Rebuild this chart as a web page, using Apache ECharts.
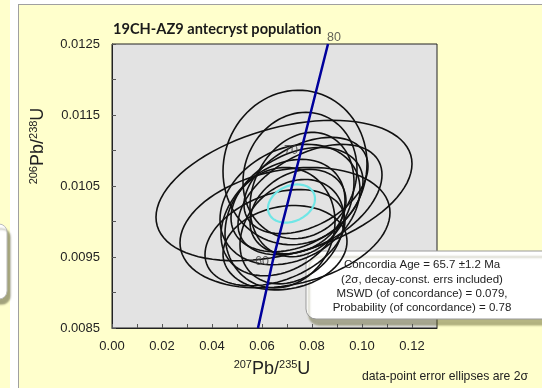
<!DOCTYPE html>
<html>
<head>
<meta charset="utf-8" />
<title>Concordia</title>
<style>
  html, body { margin: 0; padding: 0; background: #fff; }
  #main { width: 542px; height: 388px; }
</style>
</head>
<body>
<div id="main"></div>
<script src="https://cdn.jsdelivr.net/npm/echarts@6/dist/echarts.min.js"></script>
<script>
// tick labels
const xLabels = ['0.00', '0.02', '0.04', '0.06', '0.08', '0.10', '0.12'];
const yLabels = ['0.0085', '0.0095', '0.0105', '0.0115', '0.0125'];

// concordia curve
const concX = [0.0584, 0.0644, 0.0748, 0.0864];
const concY = [0.0085, 0.00946, 0.01088, 0.0125];
const ageX = [0.0640, 0.0756, 0.0864];
const ageY = [0.00943, 0.01100, 0.0125];
const ageText = ['60', '70', '80'];

// error ellipses: centre, half width, half height, correlation
const ellCx  = [0.0732, 0.0752, 0.0688, 0.0692, 0.0712, 0.0684, 0.0740, 0.0672, 0.0760, 0.0720, 0.0776, 0.0652, 0.0744, 0.0792, 0.0692];
const ellCy  = [0.010761, 0.010648, 0.010436, 0.009913, 0.010239, 0.010055, 0.010309, 0.009913, 0.010380, 0.009857, 0.010507, 0.009772, 0.010140, 0.010309, 0.009631];
const ellSx  = [0.0288, 0.0228, 0.0512, 0.0420, 0.0280, 0.0248, 0.0264, 0.0220, 0.0208, 0.0208, 0.0248, 0.0280, 0.0192, 0.0288, 0.0248];
const ellSy  = [0.001088, 0.000890, 0.000989, 0.000848, 0.000848, 0.000820, 0.000735, 0.000848, 0.000876, 0.000735, 0.000678, 0.000678, 0.000594, 0.000777, 0.000594];
const ellRho = [0.05, 0.10, 0.38, 0.25, 0.25, 0.30, 0.35, 0.10, 0.20, 0.25, 0.40, 0.35, 0.25, 0.45, 0.15];

// concordia age ellipse
const ageEll = [0.0718, 0.010253, 0.0094, 0.000269, 0.25];

const chart = echarts.init(document.getElementById('main'));

function ellipseItem(color, width) {
  return function (params, api) {
    const cx = api.value(0), cy = api.value(1), sx = api.value(2), sy = api.value(3), r = api.value(4);
    const q = Math.sqrt(1 - r * r);
    const pts = [];
    for (let i = 0; i < 90; i++) {
      const t = i / 90 * Math.PI * 2;
      pts.push(api.coord([cx + sx * Math.cos(t), cy + sy * (r * Math.cos(t) + q * Math.sin(t))]));
    }
    return {
      type: 'polygon',
      shape: { points: pts },
      style: { fill: 'none', stroke: color, lineWidth: width }
    };
  };
}

const ellData = ellCx.map((v, i) => [v, ellCy[i], ellSx[i], ellSy[i], ellRho[i]]);
const supFont = { fontSize: 11, fontFamily: 'Liberation Sans', fill: '#222', verticalAlign: 'top', lineHeight: 20 };
const bigFont = { fontSize: 18, fontFamily: 'Liberation Sans', fill: '#222', lineHeight: 20 };

const option = {
  backgroundColor: '#FFFFCC',
  animation: false,
  title: {
    text: '19CH-AZ9 antecryst population',
    left: 108, top: 17,
    textStyle: { fontFamily: 'Lato', fontWeight: 'bold', fontSize: 14.6, color: '#1a1a1a' }
  },
  grid: {
    left: 112, right: 105, top: 44, bottom: 60,
    show: true, backgroundColor: '#E3E3E3', borderColor: '#222', borderWidth: 1
  },
  xAxis: {
    type: 'value', min: 0, max: 0.13, interval: 0.01,
    axisLine: { lineStyle: { color: '#222' } },
    axisTick: { inside: true, length: 4, lineStyle: { color: '#555' } },
    splitLine: { show: false },
    axisLabel: {
      margin: 12, color: '#222', fontSize: 13, fontFamily: 'Liberation Sans',
      formatter: v => (xLabels.includes(v.toFixed(2)) && Math.abs(v * 100 - Math.round(v * 100)) < 1e-6 ? v.toFixed(2) : ''),
      showMaxLabel: false
    }
  },
  yAxis: {
    type: 'value', min: 0.0085, max: 0.0125, interval: 0.0005,
    axisLine: { lineStyle: { color: '#222' } },
    axisTick: { inside: true, length: 4, lineStyle: { color: '#555' } },
    splitLine: { show: false },
    axisLabel: {
      margin: 12, color: '#222', fontSize: 13, fontFamily: 'Liberation Sans',
      formatter: v => {
        const k = Math.round((v - 0.0085) / 0.0005);
        return k % 2 === 0 ? yLabels[k / 2] : '';
      }
    }
  },
  graphic: [
    { type: 'rect', z: -5, shape: { x: 0, y: 0, width: 542, height: 4 }, style: { fill: '#fff' } },
    { type: 'rect', z: -5, shape: { x: 10, y: 0, width: 8, height: 388 }, style: { fill: '#fff' } },
    { type: 'rect', z: -5, shape: { x: 0, y: 0, width: 10, height: 388 }, style: { fill: '#FFFFCC' } },
    { type: 'line', z: -4, shape: { x1: 18.5, y1: 4, x2: 18.5, y2: 388 }, style: { stroke: '#a0a0a0', lineWidth: 1 } },
    { type: 'line', z: -4, shape: { x1: 18, y1: 4.5, x2: 542, y2: 4.5 }, style: { stroke: '#a0a0a0', lineWidth: 1 } },
    { type: 'rect', z: -3, shape: { x: -12, y: 224, width: 19, height: 75, r: 8 },
      style: { fill: '#fff', stroke: '#bbb', shadowColor: 'rgba(90,90,60,0.55)', shadowOffsetX: 3, shadowOffsetY: 5, shadowBlur: 2 } },
    {
      type: 'text', x: 38, y: 146, rotation: Math.PI / 2,
      style: {
        text: '{s|206}{b|Pb/}{s|238}{b|U}', align: 'center', verticalAlign: 'middle',
        rich: { s: supFont, b: bigFont }
      }
    },
    {
      type: 'text', x: 272, y: 369,
      style: {
        text: '{s|207}{b|Pb/}{s|235}{b|U}', align: 'center', verticalAlign: 'middle',
        rich: { s: supFont, b: bigFont }
      }
    },
    {
      type: 'text', x: 362, y: 377,
      style: { text: 'data-point error ellipses are 2σ', fontSize: 12.2, fontFamily: 'Liberation Sans', fill: '#222', verticalAlign: 'middle' }
    },
    {
      type: 'group', z: 100,
      children: [
        { type: 'rect', shape: { x: 306, y: 251, width: 250, height: 68, r: 10 },
          style: { fill: '#fff', stroke: '#999', lineWidth: 1, shadowColor: 'rgba(90,90,40,0.45)', shadowOffsetX: 3, shadowOffsetY: 6, shadowBlur: 2 } },
        { type: 'text', x: 422, y: 258,
          style: {
            text: 'Concordia Age = 65.7 ±1.2 Ma\n(2σ, decay-const. errs included)\nMSWD (of concordance) = 0.079,\nProbability (of concordance) = 0.78',
            align: 'center', verticalAlign: 'top', fontSize: 11.5, fontFamily: 'Liberation Sans', lineHeight: 14.3, fill: '#222'
          } }
      ]
    }
  ],
  series: [
    {
      type: 'custom', clip: true, z: 2,
      renderItem: ellipseItem('#111', 1.6),
      encode: { x: 0, y: 1 },
      data: ellData
    },
    {
      type: 'custom', clip: true, z: 3,
      renderItem: ellipseItem('#6FE6E6', 2.2),
      encode: { x: 0, y: 1 },
      data: [ageEll]
    },
    {
      type: 'line', z: 4, showSymbol: false, clip: true,
      data: concX.map((v, i) => [v, concY[i]]),
      lineStyle: { color: '#00009C', width: 2.5 }
    },
    {
      type: 'scatter', z: 5, symbolSize: 0,
      data: ageX.map((v, i) => [v, ageY[i]]),
      label: {
        show: true, fontSize: 12.5, fontFamily: 'Liberation Sans', color: '#3a3a3a',
        formatter: p => ageText[p.dataIndex],
        position: 'left', distance: 3
      },
      labelLayout: p => (p.dataIndex === 2 ? { dx: 16, dy: -6 } : {})
    }
  ]
};

chart.setOption(option);
</script>
</body>
</html>
